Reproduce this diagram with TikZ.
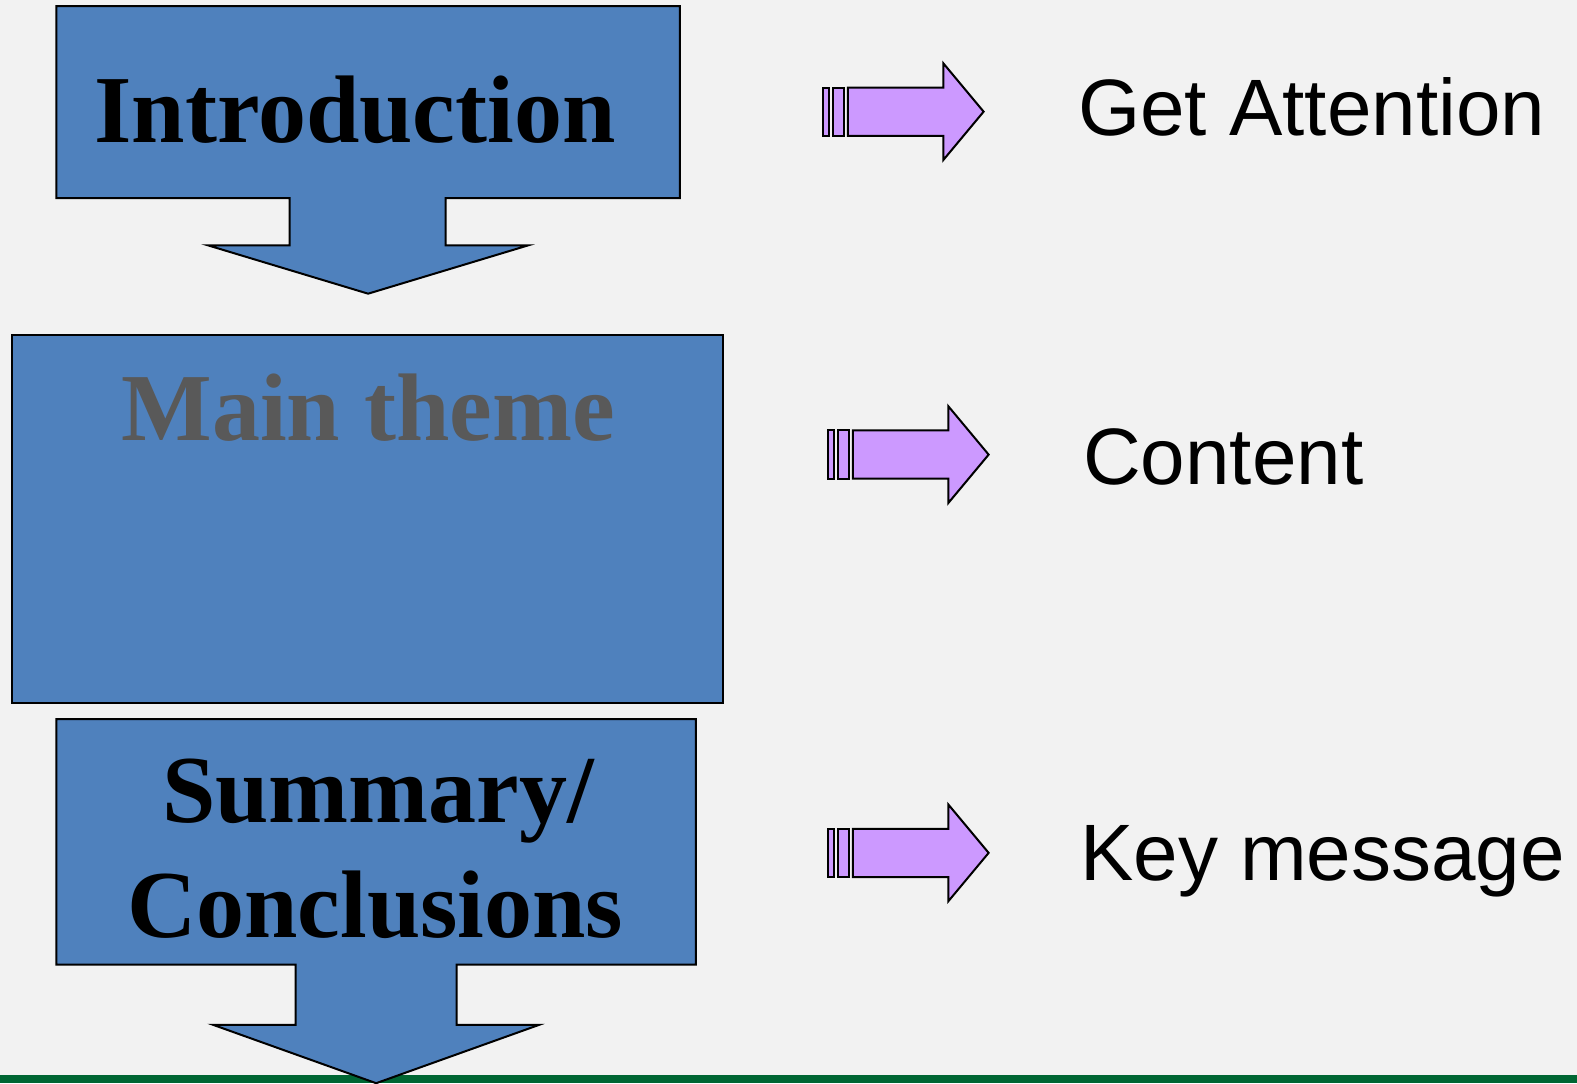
\documentclass[tikz,border=0pt]{standalone}
\usepackage{fontspec}
\setmainfont{Liberation Serif}
\setsansfont{Liberation Sans}
\definecolor{fond}{RGB}{242,242,242}
\definecolor{bleu}{RGB}{79,129,189}
\definecolor{mauve}{RGB}{204,153,255}
\definecolor{vert}{RGB}{0,102,51}
\definecolor{gris}{RGB}{89,89,89}
\tikzset{
  boite/.style={draw=black, fill=bleu, line width=1pt},
  fleche/.style={draw=black, fill=mauve, line width=1pt},
  titre/.style={font=\fontsize{48}{52}\selectfont\bfseries, anchor=base},
  etiquette/.style={font=\sffamily\fontsize{40}{44}\selectfont, anchor=base west}
}
\begin{document}
\begin{tikzpicture}[x=0.50287pt,y=-0.50287pt]
\useasboundingbox (0,0) rectangle (1568,1077);
\fill [fond] (0,0) rectangle (1568,1077);
\fill [vert] (0,1069) rectangle (1568,1077);

% boites bleues
\draw [boite] (56,6) -- (676,6) -- (676,197) -- (443,197) -- (443,244) -- (525,244)
  -- (366,292) -- (207,244) -- (288,244) -- (288,197) -- (56,197) -- cycle;
\draw [boite] (12,333) rectangle (719,699);
\draw [boite] (56,715) -- (692,715) -- (692,959) -- (454,959) -- (454,1019) -- (536,1019)
  -- (374,1077) -- (212,1019) -- (294,1019) -- (294,959) -- (56,959) -- cycle;

\node [titre] (intro) at (353,142) {Introduction};
\node [titre, text=gris] (theme) at (366,438) {Main theme};
\node [titre] (summary) at (376,818) {Summary/};
\node [titre] (concl) at (373,932) {Conclusions};

% fleches mauves
\foreach \x/\y in {818/111, 823/452, 823/848}{
  \draw [fleche] (\x,\y-24) rectangle (\x+6,\y+24);
  \draw [fleche] (\x+10,\y-24) rectangle (\x+21,\y+24);
  \draw [fleche] (\x+25,\y-24) -- (\x+120,\y-24) -- (\x+120,\y-48) -- (\x+160,\y)
    -- (\x+120,\y+48) -- (\x+120,\y+24) -- (\x+25,\y+24) -- cycle;
}

\node [etiquette] (attention) at (1065,135) {Get Attention};
\node [etiquette] (content) at (1070,482) {Content};
\node [etiquette] (key) at (1067,875) {Key message};

\end{tikzpicture}
\end{document}
